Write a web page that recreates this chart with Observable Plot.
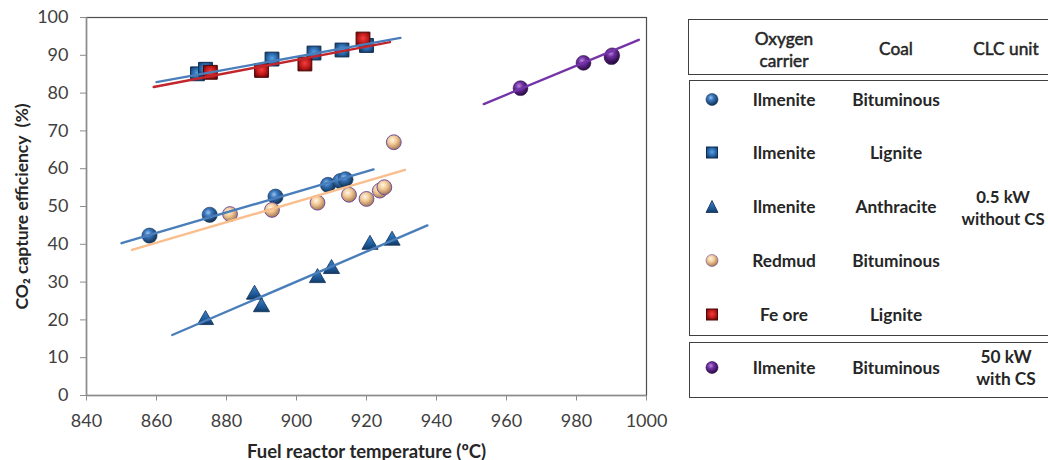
<!DOCTYPE html>
<html>
<head>
<meta charset="utf-8">
<script src="https://cdn.jsdelivr.net/npm/d3@7"></script>
<script src="https://cdn.jsdelivr.net/npm/@observablehq/plot@0.6"></script>
<style>
  html, body { margin: 0; padding: 0; background: #fff; }
  #wrap { position: relative; width: 1048px; height: 460px; overflow: hidden; font-family: Lato, "Open Sans", sans-serif; }
  #wrap > svg { position: absolute; left: 0; top: 0; }
  g[aria-label="x-axis label"] text { font-weight: bold; fill: #262626; font-size: 18.5px; }
  g[aria-label="y-axis label"] text { font-weight: bold; fill: #262626; font-size: 17.5px; }
  .box { position: absolute; border: 1.5px solid #404040; box-sizing: border-box; }
  .t { position: absolute; transform: translate(-50%, -50%); white-space: nowrap; text-align: center; color: #262626; font-size: 17.3px; line-height: 22px; }
  .b { font-weight: bold; }
  .h { font-weight: normal; -webkit-text-stroke: 0.5px #262626; }
  .ic { position: absolute; transform: translate(-50%, -50%); }
</style>
</head>
<body>
<div id="wrap"></div>
<script>
// ---- Data ----
const xTicks = [840, 860, 880, 900, 920, 940, 960, 980, 1000];
const yTicks = [0, 10, 20, 30, 40, 50, 60, 70, 80, 90, 100];

// Ilmenite – Bituminous (0.5 kW)
const ilmBitT = [858, 875.2, 894, 909, 912.5, 914];
const ilmBitE = [42.3, 47.8, 52.6, 55.7, 56.7, 57.2];
// Ilmenite – Lignite (0.5 kW)
const ilmLigT = [871.7, 874, 893, 905, 913, 920];
const ilmLigE = [85.1, 86.3, 89.0, 90.6, 91.4, 92.6];
// Ilmenite – Anthracite (0.5 kW)
const ilmAntT = [874, 888, 890, 906, 910, 921, 927.3];
const ilmAntE = [20.0, 26.7, 23.4, 31.1, 33.5, 39.9, 41.0];
// Redmud – Bituminous (0.5 kW)
const redT = [881, 893, 906, 915, 920, 923.8, 925.1, 927.8];
const redE = [48.0, 49.1, 51.0, 53.1, 52.0, 54.2, 55.1, 67.0];
// Fe ore – Lignite (0.5 kW)
const feT = [875.4, 890, 902.4, 919];
const feE = [85.5, 86.0, 87.7, 94.3];
// Ilmenite – Bituminous (50 kW, with CS)
const ilm50T = [964, 982, 990, 990.2];
const ilm50E = [81.3, 88.0, 89.5, 90.0];

// Trend lines: start/end temperature and efficiency
const trendIlmBitT = [850, 922];   const trendIlmBitE = [40.3, 59.8];
const trendIlmLigT = [860, 929.7]; const trendIlmLigE = [82.9, 94.6];
const trendIlmAntT = [864.5, 937.4]; const trendIlmAntE = [16.0, 45.0];
const trendRedT = [853, 931];      const trendRedE = [38.5, 59.7];
const trendFeT = [859.2, 926.7];   const trendFeE = [81.6, 93.5];
const trend50T = [953.5, 997.8];   const trend50E = [77.1, 94.1];

const pts = (T, E) => T.map((t, i) => ({t, e: E[i]}));

// ---- gradient definitions ----
function defs() {
  const ns = "http://www.w3.org/2000/svg";
  const d = document.createElementNS(ns, "defs");
  d.innerHTML = `
    <radialGradient id="gBlue" cx="40%" cy="35%" r="65%">
      <stop offset="0%" stop-color="#9cc3ee"/><stop offset="35%" stop-color="#3a78c0"/><stop offset="100%" stop-color="#10304f"/>
    </radialGradient>
    <radialGradient id="gTan" cx="40%" cy="35%" r="65%">
      <stop offset="0%" stop-color="#fff6e6"/><stop offset="45%" stop-color="#f1c995"/><stop offset="100%" stop-color="#a87a52"/>
    </radialGradient>
    <radialGradient id="gPur" cx="40%" cy="35%" r="65%">
      <stop offset="0%" stop-color="#b98ae0"/><stop offset="40%" stop-color="#6f2fa0"/><stop offset="100%" stop-color="#2a0c45"/>
    </radialGradient>
    <radialGradient id="gSqB" cx="50%" cy="45%" r="60%">
      <stop offset="0%" stop-color="#5aa2e6"/><stop offset="60%" stop-color="#2866a8"/><stop offset="100%" stop-color="#163e6a"/>
    </radialGradient>
    <radialGradient id="gSqR" cx="50%" cy="45%" r="60%">
      <stop offset="0%" stop-color="#f04040"/><stop offset="60%" stop-color="#c01818"/><stop offset="100%" stop-color="#6e0a0a"/>
    </radialGradient>
    <linearGradient id="gTri" x1="0" y1="0" x2="0" y2="1">
      <stop offset="0%" stop-color="#3f86cc"/><stop offset="60%" stop-color="#1f5c9c"/><stop offset="100%" stop-color="#123a66"/>
    </linearGradient>`;
  return d;
}

const chart = Plot.plot({
  width: 1048,
  height: 460,
  marginLeft: 86,
  marginRight: 402,
  marginTop: 17,
  marginBottom: 65,
  style: {fontFamily: "Lato, 'Open Sans', sans-serif", fontSize: "18px", color: "#404040", background: "transparent"},
  x: {domain: [840, 1000]},
  y: {domain: [0, 100]},
  marks: [
    defs,
    Plot.frame({stroke: "#4d4d4d", strokeWidth: 1.2}),
    Plot.ruleX([840], {stroke: "#8c8c8c", strokeWidth: 1.5}),
    Plot.ruleY([0], {stroke: "#8c8c8c", strokeWidth: 1.5}),
    Plot.axisX({ticks: xTicks, tickSize: 5.5, tickPadding: 13, stroke: "#8c8c8c", fill: "#404040",
      tickFormat: d => String(d), label: "Fuel reactor temperature (ºC)", labelAnchor: "center", labelOffset: 62, labelArrow: "none"}),
    Plot.axisY({ticks: yTicks, tickSize: 6, tickPadding: 12, stroke: "#8c8c8c", fill: "#404040",
      tickFormat: d => String(d), label: "CO₂ capture efficiency  (%)", labelAnchor: "center", labelOffset: 71, labelArrow: "none"}),
    // markers
    Plot.dot(pts(ilmBitT, ilmBitE), {x: "t", y: "e", r: 7.6, fill: "url(#gBlue)", stroke: "#17375e", strokeWidth: 0.6}),
    Plot.dot(pts(ilmLigT, ilmLigE), {x: "t", y: "e", r: 7.8, symbol: "square", fill: "url(#gSqB)", stroke: "#0f2d52", strokeWidth: 1}),
    Plot.dot(pts(ilmAntT, ilmAntE), {x: "t", y: "e", r: 6, symbol: "triangle", fill: "url(#gTri)", stroke: "#0f2f55", strokeWidth: 0.8}),
    Plot.dot(pts(redT, redE), {x: "t", y: "e", r: 7.4, fill: "url(#gTan)", stroke: "#7050a0", strokeWidth: 1}),
    Plot.dot(pts(feT, feE), {x: "t", y: "e", r: 7.8, symbol: "square", fill: "url(#gSqR)", stroke: "#4a0808", strokeWidth: 1}),
    Plot.dot(pts(ilm50T, ilm50E), {x: "t", y: "e", r: 7.4, fill: "url(#gPur)", stroke: "#2a0c45", strokeWidth: 0.6}),
    // trend lines
    Plot.line(pts(trendIlmBitT, trendIlmBitE), {x: "t", y: "e", stroke: "#4a7ebb", strokeWidth: 2.4}),
    Plot.line(pts(trendRedT, trendRedE), {x: "t", y: "e", stroke: "#f9be8c", strokeWidth: 2.4}),
    Plot.line(pts(trendIlmAntT, trendIlmAntE), {x: "t", y: "e", stroke: "#4a7ebb", strokeWidth: 2.4}),
    Plot.line(pts(trendFeT, trendFeE), {x: "t", y: "e", stroke: "#c0262b", strokeWidth: 2.4}),
    Plot.line(pts(trendIlmLigT, trendIlmLigE), {x: "t", y: "e", stroke: "#4a7ebb", strokeWidth: 2.4}),
    Plot.line(pts(trend50T, trend50E), {x: "t", y: "e", stroke: "#7434a8", strokeWidth: 2.4})
  ]
});

const wrap = document.getElementById("wrap");
wrap.appendChild(chart);

// ---- Legend table ----
const legCarrier = ["Ilmenite", "Ilmenite", "Ilmenite", "Redmud", "Fe ore", "Ilmenite"];
const legCoal = ["Bituminous", "Lignite", "Anthracite", "Bituminous", "Lignite", "Bituminous"];
const legIcon = ["circle:gBlue:#17375e", "square:gSqB:#0f2d52", "triangle:gTri:#0f2f55", "circle:gTan:#7050a0", "square:gSqR:#4a0808", "circle:gPur:#2a0c45"];
const legRowY = [100, 153, 207, 261, 315, 368];

function add(html, cls, x, y) {
  const el = document.createElement("div");
  el.className = cls;
  el.style.left = x + "px";
  el.style.top = y + "px";
  el.innerHTML = html;
  wrap.appendChild(el);
  return el;
}
function box(x, y, w, h) {
  const el = document.createElement("div");
  el.className = "box";
  Object.assign(el.style, {left: x + "px", top: y + "px", width: w + "px", height: h + "px"});
  wrap.appendChild(el);
}
box(688, 19, 380, 56);
box(689, 80, 380, 256);
box(689, 342, 380, 56);

add("Oxygen<br>carrier", "t h", 784, 50);
add("Coal", "t h", 896, 49);
add("CLC unit", "t h", 1006, 49);

legRowY.forEach((y, i) => {
  add(legCarrier[i], "t b", 784, y);
  add(legCoal[i], "t b", 896, y);
  const [sym, g, st] = legIcon[i].split(":");
  let shape;
  if (sym === "circle") shape = `<circle cx="7" cy="7" r="6" fill="url(#${g})" stroke="${st}" stroke-width="0.6"/>`;
  else if (sym === "square") shape = `<rect x="1.5" y="1.5" width="11" height="11" fill="url(#${g})" stroke="${st}" stroke-width="1"/>`;
  else shape = `<path d="M7,1 L13,13 L1,13 Z" fill="url(#${g})" stroke="${st}" stroke-width="0.8"/>`;
  add(`<svg width="14" height="14">${shape}</svg>`, "ic", 712, y);
});
const cs = add("0.5 kW<br>without CS", "t b", 1003, 208);
cs.style.fontSize = "16.8px";
add("50 kW<br>with CS", "t b", 1006, 368);
</script>
</body>
</html>
